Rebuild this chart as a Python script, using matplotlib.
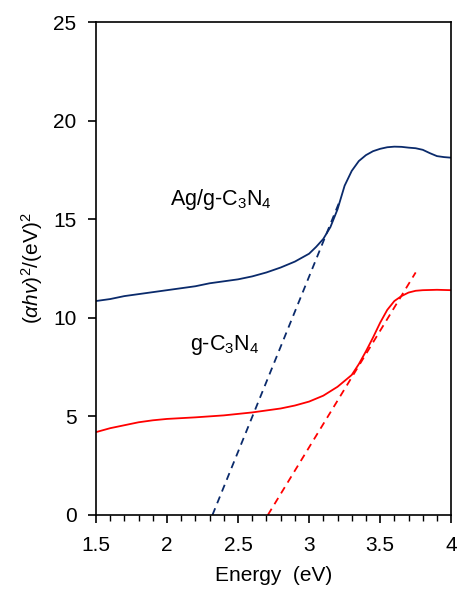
import matplotlib
matplotlib.use('Agg')
import matplotlib.pyplot as plt
from matplotlib.ticker import MultipleLocator

plt.rcParams['font.family'] = ['Liberation Sans', 'DejaVu Sans']
plt.rcParams['mathtext.fontset'] = 'custom'
plt.rcParams['mathtext.rm'] = 'Liberation Sans'
plt.rcParams['mathtext.it'] = 'Liberation Sans:italic'

# --- DATA ---
ag_energy = [1.5, 1.6, 1.7, 1.8, 1.9, 2.0, 2.1, 2.2, 2.3, 2.4, 2.5, 2.6, 2.7, 2.8,
             2.9, 3.0, 3.05, 3.1, 3.15, 3.2, 3.25, 3.3, 3.35, 3.4, 3.45, 3.5, 3.55,
             3.6, 3.65, 3.7, 3.75, 3.8, 3.85, 3.9, 3.95, 4.0]
ag_abs = [10.85, 10.95, 11.1, 11.2, 11.3, 11.4, 11.5, 11.6, 11.75, 11.85, 11.95,
          12.1, 12.3, 12.55, 12.85, 13.25, 13.6, 14.0, 14.6, 15.5, 16.7, 17.45,
          17.95, 18.25, 18.45, 18.57, 18.65, 18.68, 18.67, 18.63, 18.6, 18.52,
          18.35, 18.2, 18.15, 18.12]

gcn_energy = [1.5, 1.6, 1.7, 1.8, 1.9, 2.0, 2.2, 2.4, 2.6, 2.8, 2.9, 3.0, 3.1, 3.2,
              3.3, 3.35, 3.4, 3.45, 3.5, 3.55, 3.6, 3.65, 3.7, 3.75, 3.8, 3.9, 4.0]
gcn_abs = [4.2, 4.4, 4.55, 4.7, 4.8, 4.87, 4.95, 5.05, 5.2, 5.4, 5.55, 5.75, 6.05,
           6.5, 7.1, 7.65, 8.3, 9.0, 9.75, 10.4, 10.85, 11.1, 11.28, 11.37, 11.4,
           11.42, 11.4]

# tangent (Tauc) lines: endpoints
ag_tan_x = [2.32, 3.22]
ag_tan_y = [0.0, 16.0]
gcn_tan_x = [2.71, 3.75]
gcn_tan_y = [0.0, 12.3]

C = dict(ag='#0a2a6b', gcn='#ff0000')

fig = plt.figure(figsize=(4.59, 5.96), dpi=100)
ax = fig.add_axes([0.209, 0.136, 0.774, 0.827])

ax.plot(ag_energy, ag_abs, color=C['ag'], lw=1.3)
ax.plot(gcn_energy, gcn_abs, color=C['gcn'], lw=1.3)
ax.plot(ag_tan_x, ag_tan_y, color=C['ag'], lw=1.3, ls=(0, (4, 3)))
ax.plot(gcn_tan_x, gcn_tan_y, color=C['gcn'], lw=1.3, ls=(0, (4, 3)))

ax.text(2.02, 16.0, r'Ag/g-C$_3$N$_4$', fontsize=15.5, ha='left', va='center')
ax.text(2.16, 8.6, r'g-C$_3$N$_4$', fontsize=15.5, ha='left', va='center')

ax.set_xlim(1.5, 4)
ax.set_ylim(0, 25)
ax.set_xticks([1.5, 2, 2.5, 3, 3.5, 4])
ax.set_xticklabels(['1.5', '2', '2.5', '3', '3.5', '4'])
ax.xaxis.set_minor_locator(MultipleLocator(0.1))
ax.yaxis.set_major_locator(MultipleLocator(5))
ax.tick_params(axis='both', which='major', direction='out', length=6, width=1.2,
               labelsize=15)
ax.tick_params(axis='x', which='major', pad=9)
ax.tick_params(axis='y', which='major', pad=8)
ax.tick_params(axis='x', which='minor', direction='out', length=4, width=1.0)
for s in ax.spines.values():
    s.set_linewidth(1.2)

ax.set_xlabel('Energy  (eV)', fontsize=15, labelpad=8)
ax.set_ylabel(r'($\mathit{\alpha hv}$)$^2$/(eV)$^2$', fontsize=15, labelpad=6)

plt.savefig('out.png', dpi=100)
